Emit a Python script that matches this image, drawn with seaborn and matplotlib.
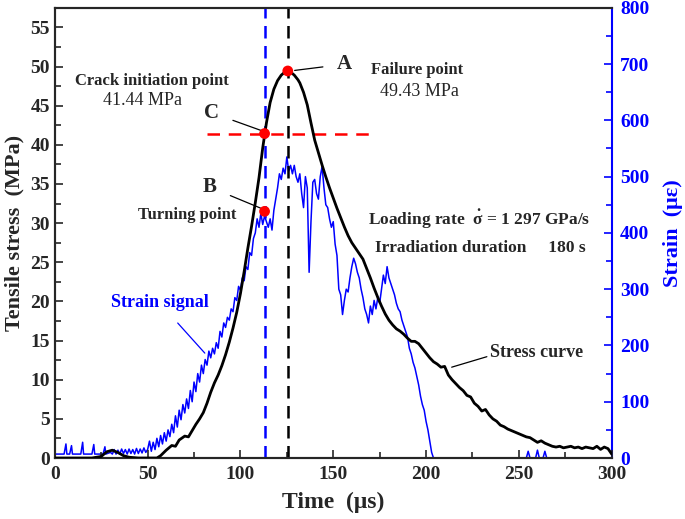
import numpy as np
import pandas as pd
import matplotlib
matplotlib.use("Agg")
import matplotlib.pyplot as plt
from matplotlib.ticker import MultipleLocator
import seaborn as sns

# Stress curve (time in us, stress in MPa)
stress_time = [0, 20, 25, 28, 31, 34, 37, 40, 45, 55, 57, 60, 63, 65, 67, 70, 72, 74, 76, 78,
               80, 82, 84, 86, 88, 90, 92, 94, 96, 98, 100, 102, 104, 106, 108, 110, 112, 114, 116, 118,
               120, 122, 124, 125.5, 127, 129, 131, 132, 134, 136, 138, 140, 142, 144, 146, 148, 150, 152, 154, 156,
               158, 160, 162, 164, 166, 168, 170, 172, 174, 176, 178, 180, 182, 184, 186, 188, 190, 192, 194, 196,
               198, 200, 202, 204, 206, 208, 210, 212, 214, 216, 218, 220, 222, 224, 226, 228, 230, 232, 234, 236,
               238, 240, 242, 244, 246, 248, 250, 252, 254, 256, 258, 260, 262, 264, 266, 268, 270, 272, 274, 276,
               278, 280, 282, 284, 286, 288, 290, 292, 294, 296, 298, 300]
stress_val = [0, 0, 0.2, 0.8, 1.0, 0.7, 0.3, 0.1, 0, 0, 0.3, 1.0, 1.6, 1.5, 2.3, 2.8, 2.7, 3.5, 4.3, 5.0,
              5.8, 7.0, 8.4, 9.6, 10.6, 11.8, 13.2, 14.8, 16.6, 18.6, 21.0, 23.8, 26.8, 29.6, 32.6, 35.8, 39.6, 42.8, 45.4, 47.1,
              48.2, 48.9, 49.3, 49.43, 49.3, 48.9, 48.3, 47.9, 46.7, 45.1, 42.8, 40.6, 39.0, 37.4, 35.9, 34.5, 33.2, 31.9, 30.7, 29.5,
              28.4, 27.5, 26.8, 26.1, 25.4, 24.2, 23.0, 21.7, 20.5, 19.4, 18.4, 17.6, 17.0, 16.5, 16.2, 15.8, 15.3, 14.9, 14.9, 14.6,
              14.0, 13.4, 12.8, 12.3, 12.0, 11.6, 11.7, 10.6, 10.0, 9.5, 9.0, 8.6, 8.0, 7.8, 7.0, 6.6, 6.0, 6.2, 5.5, 5.0,
              4.7, 4.2, 4.0, 3.7, 3.5, 3.3, 3.1, 2.9, 2.7, 2.6, 2.3, 2.0, 2.2, 1.9, 1.7, 1.5, 1.4, 1.5, 1.3, 1.4,
              1.5, 1.3, 1.4, 1.2, 1.4, 1.3, 1.2, 1.5, 1.1, 1.4, 1.2, 0.5]

# Strain signal (time in us, strain in micro-strain)
strain_time = [0, 1, 5, 6, 6.5, 8, 9, 9.5, 14, 15, 15.5, 20, 21, 21.5, 26, 27, 27.5, 30, 31, 32,
               33, 34, 35, 36, 37, 38, 39, 40, 41, 42, 43, 44, 45, 46, 47, 48, 49,
               50, 51, 52, 53, 54, 55, 56, 57, 58, 59, 60, 61, 62, 63, 64, 65, 66, 67, 68, 69,
               70, 71, 72, 73, 74, 75, 76, 77, 78, 79, 80, 81, 82, 83, 84, 85, 86, 87, 88, 89,
               90, 91, 92, 93, 94, 95, 96, 97, 98, 99, 100, 101, 102, 103, 104, 105, 106, 107, 108, 109,
               110, 111, 112, 113, 114, 115, 116, 117, 118, 119, 120, 121, 122, 123, 124, 125, 126, 127, 128, 129,
               130, 131, 132, 133, 134, 135, 136, 137, 138, 139, 140, 141, 142, 143, 144, 145, 146, 147, 148, 149,
               150, 151, 152, 153, 154, 155, 156, 157, 158, 159, 160, 161, 162, 163, 164, 165, 166, 167, 168, 169,
               170, 171, 172, 173, 174, 175, 176, 177, 178, 179, 180, 181, 182, 183, 184, 185, 186, 187, 188, 189,
               190, 191, 192, 193, 194, 195, 196, 197, 198, 199, 200, 201, 202, 203, 204,
               205, 254, 255, 256, 259, 260, 261, 263, 264, 265, 300]
strain_val = [7, 7, 7, 25, 7, 7, 22, 7, 7, 28, 7, 7, 24, 7, 7, 20, 7, 10, 7, 15,
              7, 14, 7, 16, 8, 15, 7, 16, 8, 15, 7, 17, 8, 16, 9, 18, 10,
              15, 30, 12, 28, 15, 35, 20, 40, 25, 45, 30, 50, 38, 60, 45, 75, 55, 85, 68, 95,
              80, 105, 88, 120, 100, 135, 118, 150, 135, 165, 150, 175, 165, 190, 178, 195, 185, 205, 195, 225,
              215, 240, 232, 250, 245, 265, 260, 285, 280, 305, 298, 320, 315, 340, 335, 365, 360, 390, 400, 425,
              410, 435, 415, 430, 420, 410, 425, 405, 440, 460, 480, 505, 495, 515, 505, 535, 510, 520, 505, 520,
              500, 490, 505, 470, 445, 500, 480, 330, 420, 490, 495, 470, 460, 500, 518, 480, 450, 445, 425, 410,
              420, 380, 360, 300, 290, 255, 280, 300, 295, 320, 340, 355, 345, 330, 320, 300, 285, 265, 255, 240,
              270, 255, 280, 265, 285, 275, 300, 325, 310, 340, 320, 310, 300, 290, 275, 265, 260, 245, 235, 225,
              215, 195, 185, 170, 160, 145, 130, 110, 95, 85, 65, 50, 30, 10, 0,
              0, 0, 12, 0, 0, 14, 0, 0, 12, 0, 0]

# Key points: A (failure), C (crack initiation), B (turning)
point_time = [125.5, 113, 113]
point_stress = [49.43, 41.44, 31.5]
crack_stress = 41.44
crack_line_time = [82, 170]

stress_df = pd.DataFrame({"time": stress_time, "stress": stress_val})
strain_df = pd.DataFrame({"time": strain_time, "strain": strain_val})
points_df = pd.DataFrame({"time": point_time, "stress": point_stress})

sns.set_style("ticks")
plt.rcParams["font.family"] = ["Liberation Serif", "DejaVu Serif"]
plt.rcParams["mathtext.fontset"] = "custom"
plt.rcParams["mathtext.rm"] = "Liberation Serif"
plt.rcParams["mathtext.it"] = "Liberation Serif:italic"
plt.rcParams["mathtext.bf"] = "Liberation Serif:bold"

fig, ax1 = plt.subplots(figsize=(6.85, 5.19), dpi=100)
fig.subplots_adjust(left=0.080, right=0.893, bottom=0.1175, top=0.985)
ax2 = ax1.twinx()

# Strain on right axis
sns.lineplot(data=strain_df, x="time", y="strain", ax=ax2, color="#0000FF", linewidth=1.1,
             estimator=None, sort=False)
# Stress on left axis
sns.lineplot(data=stress_df, x="time", y="stress", ax=ax1, color="black", linewidth=2.0,
             estimator=None, sort=False, zorder=3)
ax1.set_zorder(ax2.get_zorder() + 1)
ax1.patch.set_visible(False)

# Reference lines
ax1.axvline(point_time[1], color="#0000FF", linestyle=(0, (5, 3)), linewidth=1.8)
ax1.axvline(point_time[0], color="black", linestyle=(0, (5, 3)), linewidth=1.8)
ax1.plot(crack_line_time, [crack_stress, crack_stress], color="#FF0000", linestyle=(0, (5, 3.5)), linewidth=1.8)
sns.scatterplot(data=points_df, x="time", y="stress", ax=ax1, color="#FF0000", s=60,
                edgecolor="none", zorder=5)

ax1.set_xlim(0, 300)
ax1.set_ylim(0, 57.5)
ax2.set_ylim(0, 800)
ax1.xaxis.set_major_locator(MultipleLocator(50))
ax1.xaxis.set_minor_locator(MultipleLocator(25))
ax1.yaxis.set_major_locator(MultipleLocator(5))
ax1.yaxis.set_minor_locator(MultipleLocator(2.5))
ax2.yaxis.set_major_locator(MultipleLocator(100))
ax2.yaxis.set_minor_locator(MultipleLocator(50))

ax1.tick_params(which="both", direction="in", right=False, top=False, width=1.2, labelsize=14)
ax1.tick_params(which="major", length=6)
ax1.tick_params(which="minor", length=4)
ax1.tick_params(axis="x", pad=6)
ax2.tick_params(which="both", direction="in", colors="#0000FF", width=1.2, labelsize=14, pad=6)
ax2.tick_params(which="major", length=6)
ax2.tick_params(which="minor", length=4)
for lab in ax1.get_xticklabels() + ax1.get_yticklabels() + ax2.get_yticklabels():
    lab.set_fontweight("bold")

for sp in ax1.spines.values():
    sp.set_linewidth(1.5)
    sp.set_visible(True)
for sp in ax2.spines.values():
    sp.set_linewidth(1.5)
ax2.spines["right"].set_color("#0000FF")
ax1.spines["right"].set_visible(False)

ax1.set_xlabel("Time  (\u03bcs)", fontsize=17, fontweight="bold", labelpad=6)
ax1.set_ylabel("Tensile stress  (MPa)", fontsize=16, fontweight="bold", labelpad=4)
ax2.set_ylabel("Strain  (\u03bc\u03b5)", fontsize=16, fontweight="bold", color="#0000FF", labelpad=10)

# Annotations
line_kw = dict(arrowstyle="-", color="black", linewidth=0.9)
ax1.text(52.2, 48.1, "Crack initiation point", ha="center", va="center", fontsize=12, fontweight="bold")
ax1.text(47.4, 45.7, "41.44 MPa", ha="center", va="center", fontsize=13)
ax1.annotate("C", xy=(111.5, 41.8), xytext=(84.5, 44.1), ha="center", va="center",
             fontsize=15, fontweight="bold", arrowprops=dict(line_kw, shrinkA=8, shrinkB=0))
ax1.annotate("A", xy=(129.2, 49.5), xytext=(156.2, 50.3), ha="center", va="center",
             fontsize=15, fontweight="bold", arrowprops=dict(line_kw, shrinkA=8, shrinkB=0))
ax1.text(195, 49.5, "Failure point", ha="center", va="center", fontsize=12, fontweight="bold")
ax1.text(196.5, 46.8, "49.43 MPa", ha="center", va="center", fontsize=13)
ax1.annotate("B", xy=(111, 31.9), xytext=(83.5, 34.6), ha="center", va="center",
             fontsize=15, fontweight="bold", arrowprops=dict(line_kw, shrinkA=8, shrinkB=0))
ax1.text(71.1, 31.0, "Turning point", ha="center", va="center", fontsize=12, fontweight="bold")
ax1.text(168.5, 30.4, r"Loading rate  $\mathbf{\dot{\sigma}}$ = 1 297 GPa/s", ha="left", va="center",
         fontsize=12.5, fontweight="bold")
ax1.text(172.3, 26.8, "Irradiation duration     180 s", ha="left", va="center",
         fontsize=12.5, fontweight="bold")
ax1.annotate("Strain signal", xy=(80.8, 13.4), xytext=(56.5, 19.8), ha="center", va="center",
             fontsize=13, fontweight="bold", color="#0000FF",
             arrowprops=dict(arrowstyle="-", color="#0000FF", linewidth=0.9, shrinkA=8, shrinkB=0))
ax1.annotate("Stress curve", xy=(213.8, 11.6), xytext=(259.6, 13.5), ha="center", va="center",
             fontsize=13, fontweight="bold",
             arrowprops=dict(line_kw, shrinkA=0, shrinkB=0, relpos=(0, 0.3)))

fig.savefig("out.png", dpi=100)
